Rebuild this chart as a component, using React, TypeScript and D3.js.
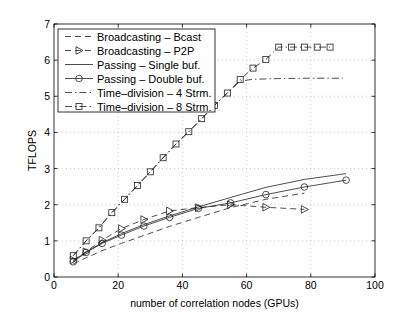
import React, { useEffect, useRef } from "react";
import * as d3 from "d3";

const W = 415;
const H = 313;
const ML = 54;
const MR = 40;
const MT = 24;
const MB = 36;

const xTicks = [0, 20, 40, 60, 80, 100];
const yTicks = [0, 1, 2, 3, 4, 5, 6, 7];

// Broadcasting – Bcast
const bcastX = [6, 10, 15, 21, 28, 36, 45, 55, 66, 78];
const bcastY = [0.36, 0.53, 0.73, 0.93, 1.15, 1.4, 1.65, 1.92, 2.15, 2.32];
// Broadcasting – P2P
const p2pX = [6, 10, 15, 21, 28, 36, 45, 55, 66, 78];
const p2pY = [0.47, 0.7, 1.02, 1.34, 1.59, 1.83, 1.92, 2.0, 1.93, 1.87];
// Passing – Single buf.
const singleX = [6, 10, 15, 21, 28, 36, 45, 55, 66, 78, 91];
const singleY = [0.45, 0.69, 0.95, 1.2, 1.45, 1.69, 1.94, 2.2, 2.48, 2.7, 2.86];
// Passing – Double buf.
const doubleX = [6, 10, 15, 21, 28, 36, 45, 55, 66, 78, 91];
const doubleY = [0.42, 0.68, 0.93, 1.16, 1.41, 1.65, 1.9, 2.05, 2.28, 2.49, 2.68];
// Time-division – 4 Strm.
const td4X = [6, 10, 14, 18, 22, 26, 30, 34, 38, 42, 46, 50, 54, 58, 62, 70, 80, 90];
const td4Y = [0.59, 1.0, 1.36, 1.78, 2.15, 2.53, 2.91, 3.3, 3.68, 4.02, 4.38, 4.75, 5.09, 5.42, 5.47, 5.49, 5.5, 5.5];
// Time-division – 8 Strm.
const td8X = [6, 10, 14, 18, 22, 26, 30, 34, 38, 42, 46, 50, 54, 58, 62, 66, 70, 74, 78, 82, 86];
const td8Y = [0.59, 1.0, 1.36, 1.78, 2.15, 2.53, 2.91, 3.3, 3.68, 4.02, 4.38, 4.75, 5.09, 5.46, 5.78, 6.02, 6.36, 6.36, 6.36, 6.36, 6.36];

const FONT = "Liberation Sans, Arial, sans-serif";
const INK = "#222";

type Marker = "none" | "tri" | "circle" | "square";

const SERIES: { label: string; xs: number[]; ys: number[]; dash: string; marker: Marker }[] = [
    { label: "Broadcasting – Bcast", xs: bcastX, ys: bcastY, dash: "6,4", marker: "none" },
    { label: "Broadcasting – P2P", xs: p2pX, ys: p2pY, dash: "6,4", marker: "tri" },
    { label: "Passing – Single buf.", xs: singleX, ys: singleY, dash: "", marker: "none" },
    { label: "Passing – Double buf.", xs: doubleX, ys: doubleY, dash: "", marker: "circle" },
    { label: "Time–division – 4 Strm.", xs: td4X, ys: td4Y, dash: "7,3,1.5,3", marker: "none" },
    { label: "Time–division – 8 Strm.", xs: td8X, ys: td8Y, dash: "7,3,1.5,3", marker: "square" },
];

function drawMarker(g: d3.Selection<SVGGElement, unknown, null, undefined>, kind: Marker, cx: number, cy: number) {
    if (kind === "tri") {
        g.append("path")
            .attr("d", `M${cx - 3},${cy - 3.8}L${cx + 4},${cy}L${cx - 3},${cy + 3.8}Z`)
            .attr("fill", "none").attr("stroke", INK).attr("stroke-width", 0.8);
    } else if (kind === "circle") {
        g.append("circle").attr("cx", cx).attr("cy", cy).attr("r", 3.3)
            .attr("fill", "none").attr("stroke", INK).attr("stroke-width", 0.8);
    } else if (kind === "square") {
        g.append("rect").attr("x", cx - 3).attr("y", cy - 3).attr("width", 6).attr("height", 6)
            .attr("fill", "none").attr("stroke", INK).attr("stroke-width", 0.8);
    }
}

const App = () => {
    const svgRef = useRef<SVGSVGElement>(null);

    useEffect(() => {
        if (!svgRef.current) return;
        const svg = d3.select(svgRef.current);
        svg.selectAll("*").remove();

        const x = d3.scaleLinear().domain([0, 100]).range([ML, W - MR]);
        const y = d3.scaleLinear().domain([0, 7]).range([H - MB, MT]);
        const x0 = x(0), x1 = x(100), y0 = y(0), y1 = y(7);

        svg.append("rect").attr("width", W).attr("height", H).attr("fill", "#fff");

        // grid
        const grid = svg.append("g");
        xTicks.slice(1, -1).forEach(t => {
            grid.append("line").attr("x1", x(t)).attr("x2", x(t)).attr("y1", y0).attr("y2", y1)
                .attr("stroke", "#aaa").attr("stroke-width", 0.6).attr("stroke-dasharray", "1,3");
        });
        yTicks.slice(1, -1).forEach(t => {
            grid.append("line").attr("x1", x0).attr("x2", x1).attr("y1", y(t)).attr("y2", y(t))
                .attr("stroke", "#aaa").attr("stroke-width", 0.6).attr("stroke-dasharray", "1,3");
        });

        // series
        const line = d3.line<[number, number]>().x(d => x(d[0])).y(d => y(d[1]));
        const plot = svg.append("g");
        SERIES.forEach(s => {
            const pts: [number, number][] = s.xs.map((v, i) => [v, s.ys[i]]);
            plot.append("path").attr("d", line(pts))
                .attr("fill", "none").attr("stroke", INK).attr("stroke-width", 0.8)
                .attr("stroke-dasharray", s.dash || null);
            pts.forEach(p => drawMarker(plot, s.marker, x(p[0]), y(p[1])));
        });

        // frame and ticks
        const ax = svg.append("g");
        ax.append("rect").attr("x", x0).attr("y", y1).attr("width", x1 - x0).attr("height", y0 - y1)
            .attr("fill", "none").attr("stroke", "#000").attr("stroke-width", 0.8);
        xTicks.forEach(t => {
            ax.append("line").attr("x1", x(t)).attr("x2", x(t)).attr("y1", y0).attr("y2", y0 - 3.5).attr("stroke", "#000").attr("stroke-width", 0.8);
            ax.append("line").attr("x1", x(t)).attr("x2", x(t)).attr("y1", y1).attr("y2", y1 + 3.5).attr("stroke", "#000").attr("stroke-width", 0.8);
            ax.append("text").attr("x", x(t)).attr("y", y0 + 12).attr("text-anchor", "middle")
                .attr("font-size", "10.5px").attr("font-family", FONT).attr("fill", "#000").text(t);
        });
        yTicks.forEach(t => {
            ax.append("line").attr("x1", x0).attr("x2", x0 + 3.5).attr("y1", y(t)).attr("y2", y(t)).attr("stroke", "#000").attr("stroke-width", 0.8);
            ax.append("line").attr("x1", x1).attr("x2", x1 - 3.5).attr("y1", y(t)).attr("y2", y(t)).attr("stroke", "#000").attr("stroke-width", 0.8);
            ax.append("text").attr("x", x0 - 4).attr("y", y(t) + 4).attr("text-anchor", "end")
                .attr("font-size", "10.5px").attr("font-family", FONT).attr("fill", "#000").text(t);
        });

        svg.append("text").attr("x", (x0 + x1) / 2).attr("y", y0 + 30).attr("text-anchor", "middle")
            .attr("font-size", "10.5px").attr("font-family", FONT).attr("fill", "#000")
            .text("number of correlation nodes (GPUs)");
        svg.append("text").attr("transform", `translate(36,${(y0 + y1) / 2}) rotate(-90)`)
            .attr("text-anchor", "middle")
            .attr("font-size", "10.5px").attr("font-family", FONT).attr("fill", "#000")
            .text("TFLOPS");

        // legend
        const lg = svg.append("g");
        const lx = 58, ly = 29, lw = 157, lh = 83;
        lg.append("rect").attr("x", lx).attr("y", ly).attr("width", lw).attr("height", lh)
            .attr("fill", "#fff").attr("stroke", "#000").attr("stroke-width", 0.8);
        SERIES.forEach((s, i) => {
            const cy = ly + 7.5 + i * 14;
            lg.append("line").attr("x1", 65).attr("x2", 93).attr("y1", cy).attr("y2", cy)
                .attr("stroke", INK).attr("stroke-width", 0.8).attr("stroke-dasharray", s.dash || null);
            drawMarker(lg, s.marker, 79, cy);
            lg.append("text").attr("x", 97).attr("y", cy + 4)
                .attr("font-size", "11px").attr("font-family", FONT).attr("fill", "#000").text(s.label);
        });
    }, []);

    return <svg ref={svgRef} width={W} height={H} style={{ position: "absolute", left: 0, top: 0 }} />;
};

export default App;
